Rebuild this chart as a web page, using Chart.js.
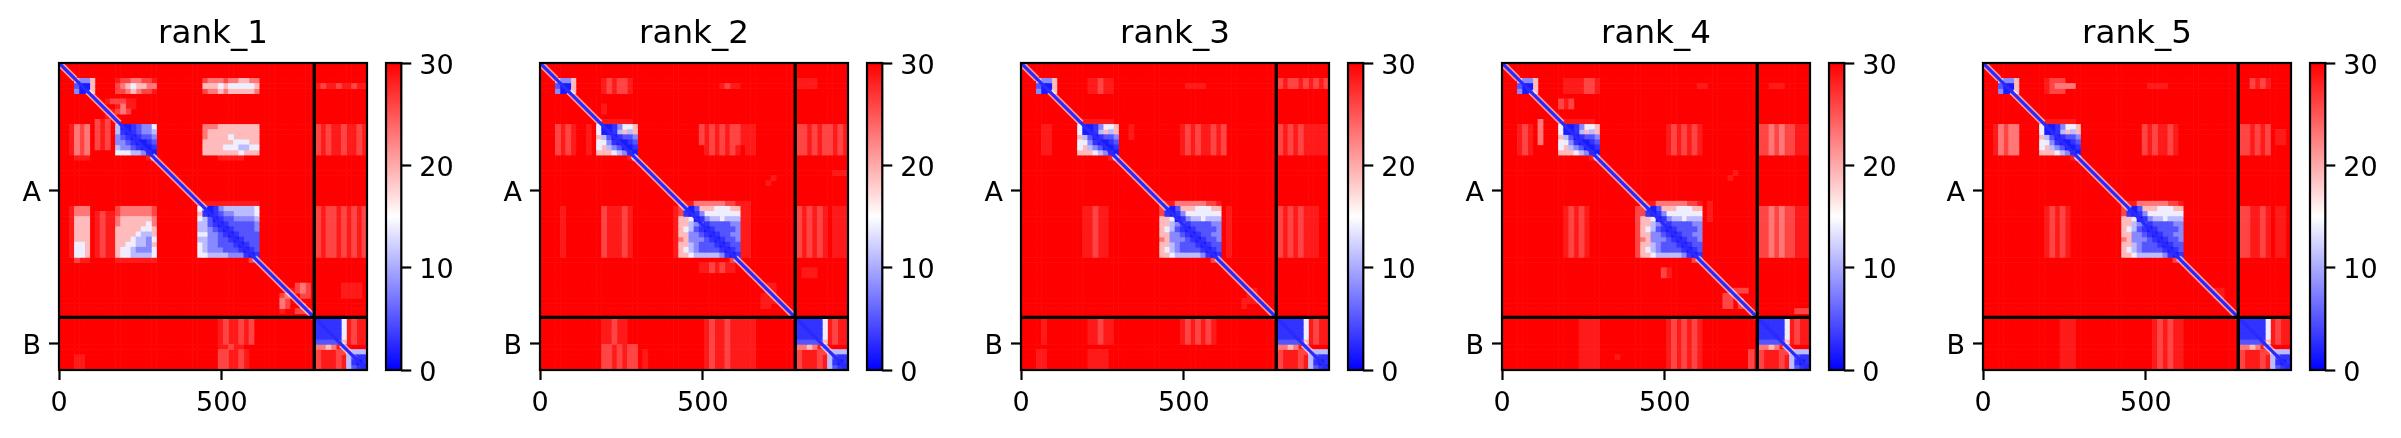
<!DOCTYPE html>
<html><head><meta charset="utf-8">
<script src="https://cdn.jsdelivr.net/npm/chart.js@4/dist/chart.umd.min.js"></script>
<style>html,body{margin:0;padding:0;background:#fff;width:2401px;height:438px;overflow:hidden}canvas{position:absolute;top:0}</style>
</head><body>
<script>
// ---------- data ----------
const titles = ["rank_1","rank_2","rank_3","rank_4","rank_5"];
const residues = 946;            // axis extent
const chainBreak = 784;          // A | B boundary
const xTicks = [0,500];
const yTicks = [392,865];
const yTickLabels = ["A","B"];
const cbarTicks = [0,10,20,30];
const gridSize = 60;             // cells per side
const levelChars = "0123456789z";
const levelValues = [1.5,3,5,8,11,14,19,23,26,28.5,30];   // PAE of each level char
// patches: [rowFrom,rowTo,colFrom,"levels"]; everything not listed = 30
const chainB = [
 [55,59,50,"999899"],[56,59,50,"899989"],[50,54,56,"9899"],
 [50,50,50,"111115"],[51,53,50,"111115"],[54,54,50,"222226"],[55,55,50,"7767"],[55,55,55,"2"],[56,56,55,"8"],
 [56,56,56,"6444"],[57,57,56,"4211"],[58,58,56,"4101"],[59,59,56,"4210"]
];
const middleBlock = [
 [11,11,11,"9999999"],
 [12,12,11,"50013556"],[13,13,11,"50014646"],[14,14,11,"64201223"],[15,15,11,"55310012"],[16,16,11,"56432001"],[17,17,11,"66654310"],[18,18,17,"93"],
 [3,3,3,"6336"],[4,4,3,"2006"],[5,5,3,"3006"]
];
const lateBlock = [
 [27,27,27,"899777777889"],[28,28,27,"800266655566"],[29,29,27,"810135555555"],[30,30,27,"665013445444"],
 [31,31,27,"664321222233"],[32,32,27,"654210122223"],[33,33,27,"663321012233"],[34,34,27,"763332101223"],
 [35,35,27,"664322210122"],[36,36,27,"654322221012"],[37,37,27,"665444443101"],[38,38,37,"82"]
];
const rank1Patches = [
 [3,3,11,"98877889"],[4,4,11,"87656677"],[5,5,11,"88767889"],
 [3,3,28,"87778776677"],[4,4,28,"66656555556"],[5,5,28,"87767666667"],[4,4,50,"9899899899"],[3,3,3,"6336"],[4,4,3,"2006"],[5,5,3,"3006"],
 [7,7,9,"98"],[7,7,11,"8899"],[8,8,11,"9799"],[9,9,10,"9878"],[10,10,9,"9"],
 [12,17,3,"787"],[12,17,2,"9"],[11,16,7,"898"],[12,17,50,"8989989989"],
 [12,12,28,"77766666666"],[13,13,28,"76666666666"],[14,14,28,"76666566666"],[15,15,28,"66666655566"],[16,16,28,"66665554455"],[17,17,28,"66666665666"],[18,18,31,"99999"],[18,18,3,"999"],
 [12,12,11,"40012335"],[13,13,11,"41012334"],[14,14,11,"32101223"],[15,15,11,"33210012"],[16,16,11,"43321001"],[17,17,11,"55544310"],[18,18,17,"93"],
 [28,29,3,"777"],[30,34,3,"666"],[35,37,3,"556"],[28,37,2,"9"],[29,37,7,"9899"],
 [28,29,11,"87777778"],[30,30,11,"76666667"],[31,31,11,"76666657"],[32,32,11,"66666556"],[33,33,11,"66665446"],[34,34,11,"66654435"],[35,35,11,"66554436"],[36,36,11,"65543335"],[37,37,11,"65544445"],[38,38,11,"99999999"],[38,38,3,"899"],
 [28,37,50,"8988989898"],
 [27,27,28,"99999999999"],[28,28,27,"500134444445"],[29,29,27,"610123344445"],[30,30,27,"542012233334"],[31,31,27,"442101222223"],[32,32,27,"443210122223"],[33,33,27,"553321012222"],[34,34,27,"443322101222"],[35,35,27,"543322210122"],[36,36,27,"543332221012"],[37,37,27,"554444333101"],[38,38,37,"82"],
 [43,43,46,"878"],[44,44,45,"9878"],[45,45,43,"87"],[45,45,47,"88"],[46,46,43,"78"],[47,47,43,"78"],[47,47,47,"8"],[48,48,43,"9"],[48,48,46,"888"],[43,45,55,"9999"],
 [50,54,31,"9899898"],[55,56,31,"99899"],[56,59,31,"889989"],[57,59,3,"99"]
];
const rank2Patches = [
 [3,5,12,"989889"],[4,4,35,"9899"],[3,4,50,"9999"],[8,9,12,"9"],
 [12,17,3,"8989"],[12,17,9,"9"],[12,15,31,"898989889"],[16,17,32,"9898989"],[12,17,40,"99"],
 [12,17,50,"8898988989"],[21,21,57,"999"],[22,22,45,"9"],[23,23,44,"9"],[20,20,20,"9"],
 [28,37,4,"9"],[28,37,12,"899989"],[28,37,50,"898989"],[28,37,57,"999"],
 [27,37,39,"99"],[27,27,30,"9999"],[28,37,26,"9"],
 [39,40,31,"9989899"],[40,41,51,"999"],[43,46,44,"99"],[45,47,43,"99"],
 [50,54,12,"99899"],[55,59,12,"8898988"],[50,59,32,"9899899999"],[56,59,20,"9"]
];
const rank3Patches = [
 [3,5,13,"99899"],[4,4,32,"9999"],[3,4,50,"8988989898"],
 [12,17,4,"99"],[12,17,31,"989899898"],[12,17,50,"898989"],[12,17,56,"9999"],[12,14,21,"9"],
 [28,37,12,"99899"],[28,37,50,"898989"],[28,37,56,"99"],[28,37,40,"9"],
 [44,46,44,"99"],[46,47,43,"9"],[50,54,4,"9"],[50,54,13,"99899"],[50,54,31,"9898989"],[56,59,3,"99"],[56,59,13,"9999"]
];
const rank4Patches = [
 [3,5,12,"9999889"],[4,4,38,"99"],[4,4,52,"999"],[7,8,11,"898"],
 [12,17,3,"989"],[11,15,7,"7"],[12,17,32,"9898989"],[12,17,50,"8878788"],[12,17,57,"999"],[21,21,45,"9"],[22,22,44,"9"],
 [28,37,12,"98989"],[28,37,50,"8878788"],[28,37,57,"999"],[27,30,40,"9"],[28,37,26,"8"],[28,37,27,"7"],
 [40,41,31,"89"],[44,44,45,"888"],[45,47,43,"88"],[46,47,46,"8"],[48,48,57,"888"],[57,57,22,"9"],
 [50,59,15,"9999"],[50,59,32,"9898989"],[56,59,48,"89"]
];
const rank5Patches = [
 [3,5,12,"9888"],[4,4,14,"7777"],[3,3,13,"8"],[4,4,32,"9999"],[3,4,52,"8989"],
 [12,17,3,"7877"],[12,17,31,"8989989"],[12,17,50,"889898"],[12,17,2,"9"],[13,15,57,"99"],
 [28,37,12,"98989"],[28,37,50,"889989"],[28,37,57,"99"],[44,45,45,"99"],
 [50,59,15,"999"],[50,59,33,"989899"]
];
const panelPatches = [
 [...rank1Patches,...chainB],
 [...middleBlock,...rank2Patches,...lateBlock,...chainB],
 [...middleBlock,...rank3Patches,...lateBlock,...chainB],
 [...middleBlock,...rank4Patches,...lateBlock,...chainB],
 [...middleBlock,...rank5Patches,...lateBlock,...chainB]
];
const diagonal = [{x:0,y:0},{x:residues,y:residues}];
const haloSpans = [[0,50],[88,185],[285,450],[600,784],[867,889]];

// ---------- drawing ----------
const FONT = "'DejaVu Sans'";
const bwr = v => { const t=Math.max(0,Math.min(30,v))/15;
  if (t<=1){const c=Math.round(255*t);return `rgb(${c},${c},255)`;}
  const c=Math.round(255*(2-t));return `rgb(255,${c},${c})`; };
const frame = {id:'frame',afterDraw(c){const a=c.chartArea,x=c.ctx;x.save();x.strokeStyle='#000';x.lineWidth=2.2;
  x.strokeRect(a.left,a.top,a.right-a.left,a.bottom-a.top);x.restore();}};
const axisGrid = {display:true,drawOnChartArea:false,drawTicks:true,tickLength:10,tickWidth:2.2,tickColor:'#000'};
const tickFont = {family:FONT,size:27};
const shiftedTickFont = {family:FONT,size:27,lineHeight:'7px'};
function addCanvas(left,w){const c=document.createElement('canvas');c.width=w;c.height=438;c.style.left=left+'px';c.style.width=w+'px';c.style.height='438px';document.body.appendChild(c);return c;}
const lefts=[59,540,1021,1502,1983], areaW=308, areaTop=63, areaBottom=370;

titles.forEach((title,p)=>{
  const m=Array.from({length:gridSize},()=>Array(gridSize).fill('z'));
  panelPatches[p].forEach(([r0,r1,c0,s])=>{for(let r=r0;r<=r1;r++)[...s].forEach((ch,i)=>{if(c0+i<gridSize)m[r][c0+i]=ch;});});
  const cell=residues/gridSize;
  const cellSets=[...levelChars].map((ch,li)=>{
    const data=[];
    m.forEach((row,r)=>row.forEach((v,c)=>{if(v===ch)data.push({x:(c+.5)*cell,y:(r+.5)*cell});}));
    return {data,pointStyle:'rect',showLine:false,pointBorderWidth:0,
      pointBackgroundColor:bwr(levelValues[li]),
      pointRadius:ctx=>{const s=ctx.chart.scales.x;return (Math.abs(s.getPixelForValue(cell)-s.getPixelForValue(0))+.6)*Math.SQRT1_2;},clip:0};
  });
  const line=(data,color,w)=>({data,showLine:true,pointRadius:0,borderColor:color,borderWidth:w,clip:0});
  const datasets=[
    line([{x:chainBreak,y:0},{x:chainBreak,y:residues}],'#000',3.3),
    line([{x:0,y:chainBreak},{x:residues,y:chainBreak}],'#000',3.3),
    line(diagonal,'#2a2aff',3.2),
    ...haloSpans.map(([a,b])=>line([{x:a,y:a},{x:b,y:b}],'rgba(255,255,255,.6)',6.5)),
    ...cellSets
  ];
  new Chart(addCanvas(lefts[p]-59,59+areaW+6),{type:'scatter',data:{datasets},plugins:[frame],options:{
    responsive:false,animation:false,events:[],devicePixelRatio:1,
    layout:{padding:{left:0,right:6,top:0,bottom:0}},
    plugins:{legend:{display:false},tooltip:{enabled:false},
      title:{display:true,text:title,fullSize:false,color:'#000',font:{family:FONT,size:32.6,weight:'normal',lineHeight:'39px'},padding:{top:15,bottom:9}}},
    scales:{
      x:{type:'linear',min:0,max:residues,grid:axisGrid,border:{display:false},
        afterBuildTicks:s=>{s.ticks=xTicks.map(value=>({value}));},
        afterFit:s=>{s.height=438-areaBottom;},
        ticks:{font:tickFont,color:'#000',padding:8,maxRotation:0,autoSkip:false}},
      y:{type:'linear',reverse:true,min:0,max:residues,grid:axisGrid,border:{display:false},
        afterBuildTicks:s=>{s.ticks=yTicks.map(value=>({value}));},
        afterFit:s=>{s.width=59;},
        ticks:{font:shiftedTickFont,color:'#000',padding:8,autoSkip:false,callback:v=>['',yTickLabels[yTicks.indexOf(v)]]}}
    }}});
  new Chart(addCanvas(lefts[p]+320,100),{type:'bar',
    data:{labels:[''],datasets:[{data:[[0,30]],barPercentage:1,categoryPercentage:1,
      backgroundColor:ctx=>{const a=ctx.chart.chartArea;if(!a)return '#fff';
        const g=ctx.chart.ctx.createLinearGradient(0,a.bottom,0,a.top);
        g.addColorStop(0,bwr(0));g.addColorStop(.5,bwr(15));g.addColorStop(1,bwr(30));return g;}}]},
    plugins:[frame],options:{responsive:false,animation:false,events:[],devicePixelRatio:1,
      layout:{padding:{left:7,right:0,top:areaTop,bottom:438-areaBottom}},
      plugins:{legend:{display:false},tooltip:{enabled:false}},
      scales:{x:{display:false},
        y:{position:'right',min:0,max:30,grid:axisGrid,border:{display:false},
          afterBuildTicks:s=>{s.ticks=cbarTicks.map(value=>({value}));},
          afterFit:s=>{s.width=100-7-15.3;},
          ticks:{font:shiftedTickFont,color:'#000',padding:8,autoSkip:false,callback:v=>['',String(v)]}}}}});
});
</script>
</body></html>
